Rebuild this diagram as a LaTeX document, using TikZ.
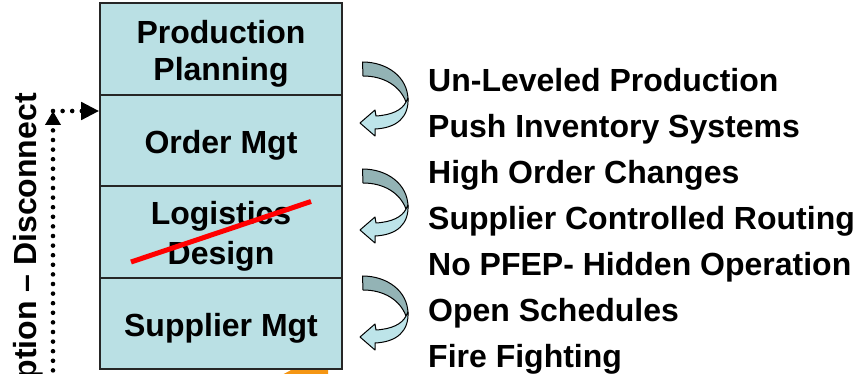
\documentclass[tikz,border=0pt]{standalone}
\usepackage{fontspec}
\setmainfont{Liberation Sans}
\usetikzlibrary{arrows.meta}
\definecolor{boxfill}{RGB}{186,224,228}
\definecolor{bandlight}{RGB}{189,228,233}
\definecolor{banddark}{RGB}{147,179,181}
\definecolor{flame}{RGB}{245,150,20}
\tikzset{
  stage/.style={draw=black!85, line width=1.6pt, fill=boxfill, minimum width=242pt,
    minimum height=91.5pt, inner sep=0pt},
  stagetext/.style={align=center, inner sep=0pt, yshift=-4.5pt,
    font=\bfseries\fontsize{32}{38}\selectfont},
  issue/.style={anchor=base west, inner sep=0pt, font=\bfseries\fontsize{32}{37}\selectfont},
  dotline/.style={line width=4.6pt, line cap=round, dash pattern=on 0pt off 9.6pt},
  band/.style={draw=black, line width=1pt, line join=round}
}
\begin{document}
\begin{tikzpicture}[x=1pt, y=-1pt]
  \useasboundingbox (0,0) rectangle (855,374);
  \clip (0,0) rectangle (855,374);
  % orange piece below the stack
  \fill[flame] (293,369) -- (328,369) -- (328,376) -- (280,376) -- cycle;
  % stack of stages
  \node[stage] (pp) at (221,49) {};
  \node[stage] (om) at (221,140.5) {};
  \node[stage] (ld) at (221,232) {};
  \node[stage] (sm) at (221,323.5) {};
  \node[stagetext] (pp-t) at (pp.center) {Production\\[-1pt]Planning};
  \node[stagetext] (om-t) at (om.center) {Order Mgt};
  \node[stagetext] (ld-t) at (ld.center) {Logistics\\[2pt]Design};
  \node[stagetext] (sm-t) at (sm.center) {Supplier Mgt};
  \draw[red, line width=5pt] (131,262) -- (311,201.5);
  % side label and dotted feedback
  \node[rotate=90, anchor=base east, inner sep=0pt,
    font=\bfseries\fontsize{32}{37}\selectfont] (gap) at (36,93) {ption -- Disconnect};
  \coordinate (start) at (53,380);
  \coordinate (corner) at (53,111);
  \draw[dotline, -{Triangle[length=14pt,width=15pt]}] (start) -- (corner);
  \draw[dotline, -{Triangle[length=18pt,width=17pt]}] (corner) -- (corner -| om.west);
  % twisted arrows
  \foreach \y in {62,169,276}{
    \begin{scope}[shift={(362,\y)}]
      \filldraw[band, fill=banddark] (0.5,0) .. controls (25,0) and (46,15) .. (46,38)
        -- (44,40) .. controls (38,24) and (22,14) .. (1,14) -- cycle;
      \filldraw[band, fill=bandlight] (46,36) .. controls (47,55) and (35,66) .. (13,67)
        -- (13,74) -- (-2,61) -- (13,48) -- (14,54) .. controls (30,53) and (40,48) .. (44,40) -- cycle;
    \end{scope}
  }
  % list of symptoms
  \node[issue] (i1) at (428,91.5) {Un-Leveled Production};
  \node[issue] (i2) at (428,137.5) {Push Inventory Systems};
  \node[issue] (i3) at (428,183.5) {High Order Changes};
  \node[issue] (i4) at (428,229.5) {Supplier Controlled Routing};
  \node[issue] (i5) at (428,275.5) {No PFEP- Hidden Operation};
  \node[issue] (i6) at (428,321.5) {Open Schedules};
  \node[issue] (i7) at (428,367.5) {Fire Fighting};
\end{tikzpicture}
\end{document}
